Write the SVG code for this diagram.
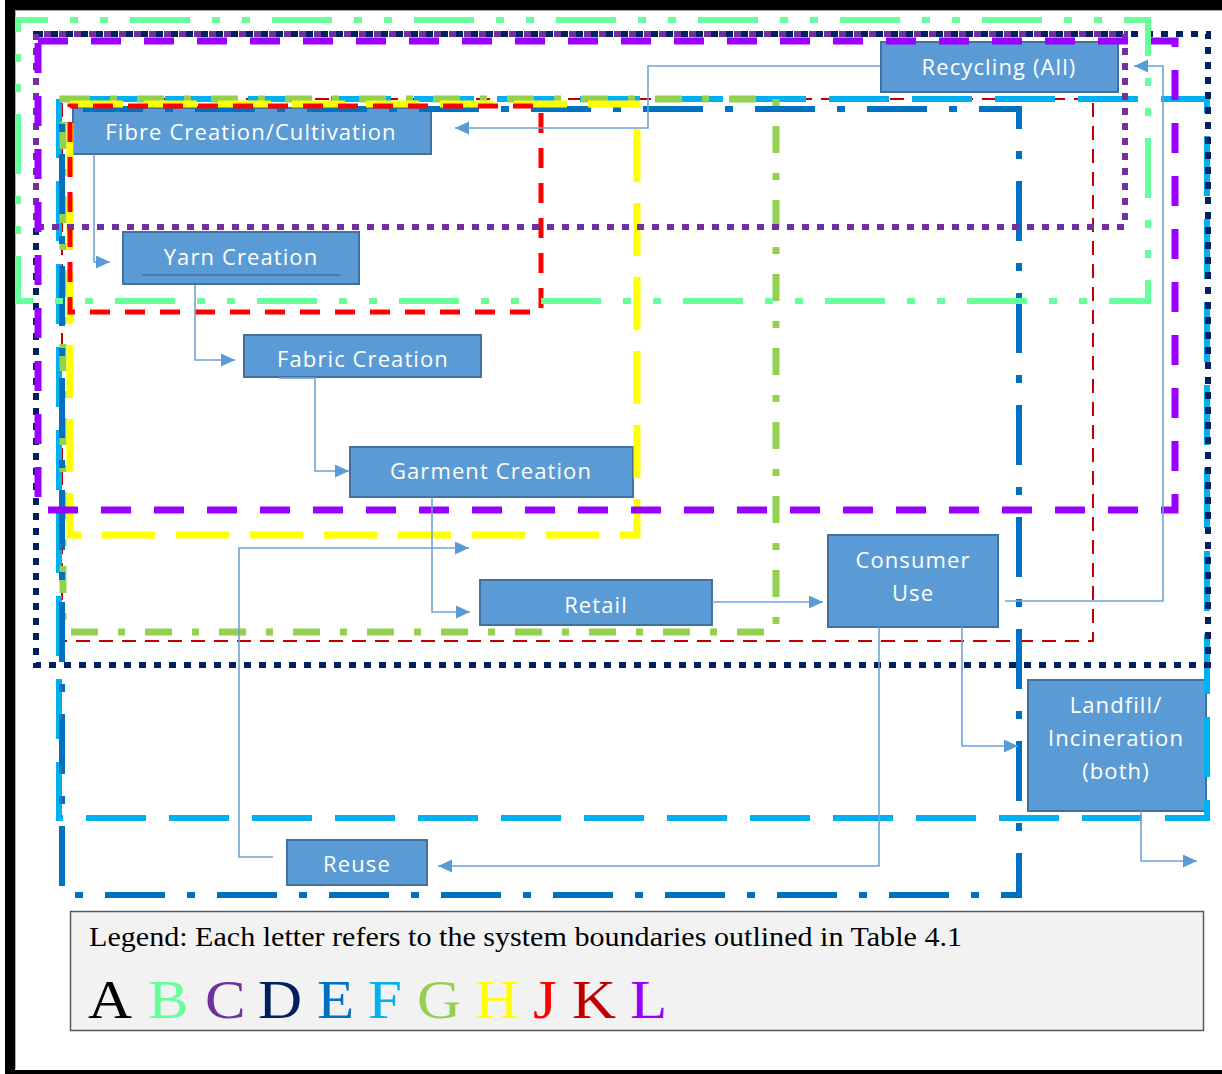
<svg xmlns="http://www.w3.org/2000/svg" width="1222" height="1074" viewBox="0 0 1222 1074">
<style>
.box{fill:#5B9BD5;stroke:#41719C;stroke-width:2}
.lbl{font-family:"Open Sans","Noto Sans",sans-serif;font-size:22px;fill:#fff;text-anchor:middle;letter-spacing:1.1px}
.bd{fill:none}
.con{fill:none;stroke:#6FA3D8;stroke-width:1.6}
.leg{font-family:"Liberation Serif","Times New Roman",serif}
</style>
<defs>
<marker id="arr" markerUnits="userSpaceOnUse" markerWidth="15" markerHeight="14" refX="14" refY="6.5" orient="auto">
<path d="M0,0 L14,6.5 L0,13 z" fill="#5B9BD5"/>
</marker>
</defs>
<rect width="1222" height="1074" fill="#fff"/>
<g id="boundary-A">
<rect x="10" y="5" width="1230" height="1070" fill="none" stroke="#000" stroke-width="10"/>
<path d="M15.5 1069 V10.5 H1222" fill="none" stroke="#aaa" stroke-width="1"/>
</g>

<g id="nodes">
<g id="node-recycling"><rect class="box" x="881" y="42" width="237" height="50"/><text class="lbl" x="999" y="75">Recycling (All)</text></g>
<g id="node-fibre"><rect class="box" x="73" y="108" width="358" height="46"/><text class="lbl" x="251" y="140">Fibre Creation/Cultivation</text></g>
<g id="node-yarn"><rect class="box" x="123" y="232" width="236" height="52"/><text class="lbl" x="241" y="265">Yarn Creation</text><path d="M142 275 H340" stroke="#41719C" stroke-width="1.5"/></g>
<g id="node-fabric"><rect class="box" x="244" y="335" width="237" height="42"/><text class="lbl" x="363" y="367">Fabric Creation</text></g>
<g id="node-garment"><rect class="box" x="350" y="447" width="283" height="50"/><text class="lbl" x="491" y="479">Garment Creation</text></g>
<g id="node-retail"><rect class="box" x="480" y="580" width="232" height="45"/><text class="lbl" x="596" y="613">Retail</text></g>
<g id="node-consumer"><rect class="box" x="828" y="535" width="170" height="92"/><text class="lbl" x="913" y="568">Consumer</text><text class="lbl" x="913" y="601">Use</text></g>
<g id="node-landfill"><rect class="box" x="1028" y="680" width="178" height="131"/><text class="lbl" x="1116" y="713">Landfill/</text><text class="lbl" x="1116" y="746">Incineration</text><text class="lbl" x="1116" y="779">(both)</text></g>
<g id="node-reuse"><rect class="box" x="287" y="840" width="140" height="45"/><text class="lbl" x="357" y="872">Reuse</text></g>
</g>

<g id="boundaries">
<rect id="boundary-K" class="bd" x="62" y="99" width="1031" height="542" stroke="#C00000" stroke-width="2" stroke-dasharray="14 9"/>
<rect id="boundary-F" class="bd" x="59" y="99" width="1148" height="719" stroke="#00B0F0" stroke-width="6" stroke-dasharray="60 23" stroke-dashoffset="60"/>
<rect id="boundary-G" class="bd" x="63" y="99" width="713" height="533" stroke="#92D050" stroke-width="7" stroke-dasharray="27 20 7 20"/>
<rect id="boundary-E" class="bd" x="62" y="109" width="957" height="786" stroke="#0070C0" stroke-width="6" stroke-dasharray="60 22 8 22" stroke-dashoffset="91"/>
<rect id="boundary-H" class="bd" x="70" y="104" width="567" height="431" stroke="#FFFF00" stroke-width="7" stroke-dasharray="53 21"/>
<rect id="boundary-J" class="bd" x="70" y="106" width="471" height="206" stroke="#FF0000" stroke-width="5" stroke-dasharray="20 15" stroke-dashoffset="12"/>
<rect id="boundary-D" class="bd" x="36" y="34" width="1172" height="631" stroke="#002060" stroke-width="6" stroke-dasharray="7 8"/>
<rect id="boundary-C" class="bd" x="36" y="34" width="1089" height="193" stroke="#7030A0" stroke-width="6" stroke-dasharray="7 8" stroke-dashoffset="7"/>
<rect id="boundary-L" class="bd" x="38" y="41" width="1137" height="469" stroke="#9900FF" stroke-width="7" stroke-dasharray="30 23"/>
<rect id="boundary-B" class="bd" x="18" y="20" width="1130" height="281" stroke="#66FF99" stroke-width="6" stroke-dasharray="60 22 8 22 8 22" stroke-dashoffset="30"/>
</g>

<g id="connectors">
<path class="con" d="M880 66 H648 V128 H455" marker-end="url(#arr)"/>
<path class="con" d="M94 154 V262 H110" marker-end="url(#arr)"/>
<path class="con" d="M195 285 V360 H235" marker-end="url(#arr)"/>
<path class="con" d="M279 378 H315 V471 H349" marker-end="url(#arr)"/>
<path class="con" d="M432 497 V612 H470" marker-end="url(#arr)"/>
<path class="con" d="M712 602 H823" marker-end="url(#arr)"/>
<path class="con" d="M1005 601 H1163 V66 H1134" marker-end="url(#arr)"/>
<path class="con" d="M962 627 V746 H1018" marker-end="url(#arr)"/>
<path class="con" d="M879 627 V866 H438" marker-end="url(#arr)"/>
<path class="con" d="M273 857 H239 V548 H469" marker-end="url(#arr)"/>
<path class="con" d="M1141 811 V861 H1197" marker-end="url(#arr)"/>
</g>

<g id="legend">
<rect x="70.5" y="911.5" width="1133" height="119" fill="#F2F2F2" stroke="#595959" stroke-width="1.5"/>
<text class="leg" x="89" y="946" font-size="27" fill="#000" textLength="873" lengthAdjust="spacingAndGlyphs">Legend: Each letter refers to the system boundaries outlined in Table 4.1</text>
<g class="leg" font-size="54" transform="scale(1.13,1)">
<text x="77.9" y="1018" fill="#000">A</text>
<text x="131" y="1018" fill="#66FF99">B</text>
<text x="181.4" y="1018" fill="#7030A0">C</text>
<text x="228.3" y="1018" fill="#002060">D</text>
<text x="280.5" y="1018" fill="#0070C0">E</text>
<text x="325.7" y="1018" fill="#00B0F0">F</text>
<text x="369" y="1018" fill="#92D050">G</text>
<text x="420.4" y="1018" fill="#FFFF00">H</text>
<text x="471.7" y="1018" fill="#FF0000">J</text>
<text x="506.2" y="1018" fill="#C00000">K</text>
<text x="557.5" y="1018" fill="#9900FF">L</text>
</g>
</g>
</svg>
